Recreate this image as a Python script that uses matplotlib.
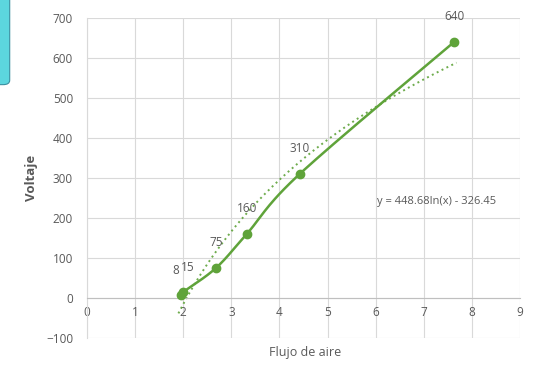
import numpy as np
import matplotlib.pyplot as plt
from matplotlib.patches import FancyBboxPatch

plt.rcParams['font.family'] = ['Open Sans', 'DejaVu Sans']

flujo = [1.95, 2.0, 2.68, 3.32, 4.42, 7.63]
voltaje = [8, 15, 75, 160, 310, 640]
etiquetas = ['8', '15', '75', '160', '310', '640']
coef_a = 448.68
coef_b = -326.45

green = '#5fa33a'
grid_c = '#d9d9d9'
txt_c = '#595959'


def smooth(xs, ys, n=30):
    # catmull-rom curve through the points, like Excel's smoothed line
    px = np.array([xs[0]] + list(xs) + [xs[-1]], dtype=float)
    py = np.array([ys[0]] + list(ys) + [ys[-1]], dtype=float)
    t = np.linspace(0, 1, n)
    ox, oy = [], []
    for i in range(1, len(px) - 2):
        for p, o in ((px, ox), (py, oy)):
            p0, p1, p2, p3 = p[i - 1], p[i], p[i + 1], p[i + 2]
            o.extend(0.5 * (2 * p1 + (-p0 + p2) * t + (2 * p0 - 5 * p1 + 4 * p2 - p3) * t ** 2
                            + (-p0 + 3 * p1 - 3 * p2 + p3) * t ** 3))
    return ox, oy


fig = plt.figure(figsize=(5.39, 3.68), dpi=100)
ax = fig.add_axes([0.1614, 0.0815, 0.8034, 0.8696])

# trend line (log fit shown on the chart)
xt = np.linspace(min(flujo) - 0.05, max(flujo) + 0.05, 200)
ax.plot(xt, coef_a * np.log(xt) + coef_b, ls=(0, (1, 1.8)), color=green, lw=1.4, alpha=0.9)

sx, sy = smooth(flujo, voltaje)
ax.plot(sx, sy, color=green, lw=1.8, zorder=3)
ax.plot(flujo, voltaje, ls='none', color=green, marker='o', ms=6, zorder=4)
offsets = [(-4, 15), (3.5, 15), (0, 16), (0, 16), (0, 16), (0, 16)]
for x, y, s, off in zip(flujo, voltaje, etiquetas, offsets):
    ax.annotate(s, (x, y), xytext=off, textcoords='offset points',
                ha='center', fontsize=8.5, color=txt_c)

ax.text(7.26, 242, 'y = 448.68ln(x) - 326.45', ha='center', va='center',
        fontsize=8, color=txt_c)

ax.set_xlim(0, 9)
ax.set_ylim(-100, 700)
ax.set_xticks(range(0, 10))
ax.set_yticks(range(-100, 701, 100))
ax.grid(True, color=grid_c, lw=0.8)
ax.set_axisbelow(True)
for side in ['top', 'right']:
    ax.spines[side].set_visible(False)
ax.spines['left'].set_color(grid_c)
ax.spines['bottom'].set_position(('data', 0))
ax.spines['bottom'].set_color('#bfbfbf')
ax.tick_params(length=0, labelsize=8.5, labelcolor=txt_c, pad=6)
ax.tick_params(axis='y', pad=10)

ax.set_ylabel('Voltaje', fontsize=9.5, color=txt_c, fontweight='bold', labelpad=6)
fig.text(0.566, 0.043, 'Flujo de aire', ha='center', va='center', fontsize=9, color=txt_c)

# cyan tab in the corner of the screenshot
fig.patches.append(FancyBboxPatch((-0.02, 0.77), 0.038, 0.26,
                                  boxstyle='round,pad=0,rounding_size=0.012',
                                  transform=fig.transFigure, facecolor='#5cd6de',
                                  edgecolor='#3a8fa0', lw=0.8, figure=fig))

fig.savefig('out.png', dpi=100)
